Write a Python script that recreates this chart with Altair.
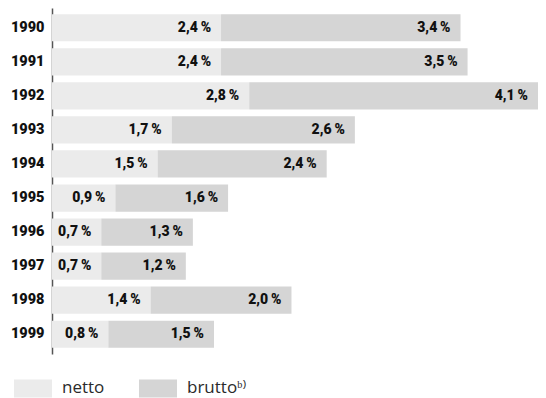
import altair as alt
import pandas as pd

years = ["1990", "1991", "1992", "1993", "1994", "1995", "1996", "1997", "1998", "1999"]
netto = [2.4, 2.4, 2.8, 1.7, 1.5, 0.9, 0.7, 0.7, 1.4, 0.8]
brutto = [3.4, 3.5, 4.1, 2.6, 2.4, 1.6, 1.3, 1.2, 2.0, 1.5]
series = ["netto", "brutto"]
colors = ["#ebebeb", "#d5d5d5"]

rows = []
for y, n, b in zip(years, netto, brutto):
    rows.append({"year": y, "series": "netto", "value": n, "start": 0.0, "end": n,
                 "label": f"{n:.1f}".replace(".", ",") + "\u2009%"})
    rows.append({"year": y, "series": "brutto", "value": b, "start": n, "end": n + b,
                 "label": f"{b:.1f}".replace(".", ",") + "\u2009%"})
df = pd.DataFrame(rows)

LABEL_FONT = "Roboto"

xscale = alt.Scale(domain=[0, 6.9], nice=False, zero=True)
yscale = alt.Scale(domain=years, paddingInner=0.2, paddingOuter=0.18)

bars = alt.Chart(df).mark_bar().encode(
    y=alt.Y("year:N", scale=yscale, sort=years,
            axis=alt.Axis(title=None, ticks=False, grid=False, labelFont=LABEL_FONT,
                          labelFontSize=14.5, labelFontWeight=900, labelColor="#111",
                          labelPadding=8, domainColor="#555", domainWidth=1.5)),
    x=alt.X("start:Q", scale=xscale, axis=None),
    x2="end:Q",
    fill=alt.Fill("series:N", scale=alt.Scale(domain=series, range=colors),
                  legend=alt.Legend(title=None, orient="none", legendX=-38, legendY=361,
                                    direction="horizontal",
                                    symbolType="M-1,-0.474H1V0.474H-1Z", symbolSize=1444,
                                    symbolStrokeWidth=0, labelFont="Open Sans",
                                    labelFontSize=17, labelColor="#2a2a2a", labelOffset=10,
                                    columnPadding=34, padding=0,
                                    labelExpr="datum.label == 'brutto' ? 'brutto\u1d47\u207e' : datum.label")),
)

labels = alt.Chart(df).mark_text(align="right", baseline="middle", dx=-10,
                                 font=LABEL_FONT, fontSize=14, fontWeight=900,
                                 color="#111").encode(
    y=alt.Y("year:N", scale=yscale, sort=years),
    x=alt.X("end:Q", scale=xscale),
    text="label:N",
)

chart = alt.layer(bars, labels).properties(
    width=486, height=346,
    padding={"left": 44, "top": 0, "right": 0, "bottom": 44},
    autosize=alt.AutoSizeParams(type="none"),
).configure_view(stroke=None)

chart.save("out.html", embed_options={"renderer": "svg", "actions": False})
